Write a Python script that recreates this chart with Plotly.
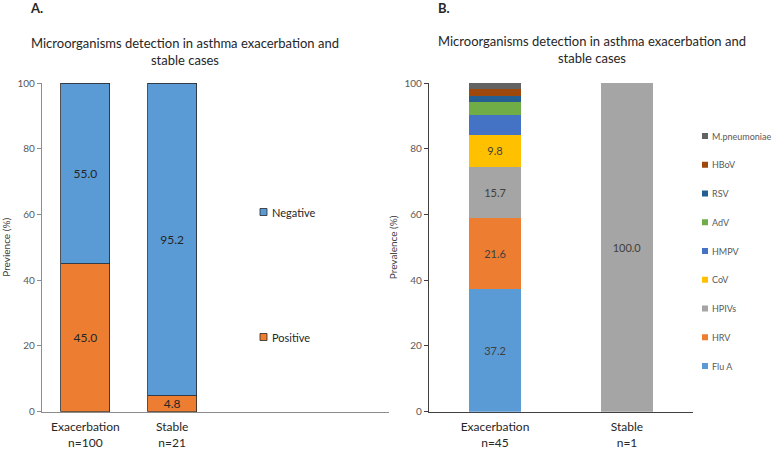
import plotly.graph_objects as go

# ---- data ----
groups_a = ["Exacerbation<br>n=100", "Stable<br>n=21"]
positive = [45.0, 4.8]
negative = [55.0, 95.2]

groups_b = ["Exacerbation<br>n=45", "Stable<br>n=1"]
organisms = ["Flu A", "HRV", "HPIVs", "CoV", "HMPV", "AdV", "RSV", "HBoV", "M.pneumoniae"]
exac_vals = [37.2, 21.6, 15.7, 9.8, 5.9, 3.9, 2.0, 2.0, 2.0]
stable_vals = [0, 0, 100.0, 0, 0, 0, 0, 0, 0]
org_colors = ["#5B9BD5", "#ED7D31", "#A5A5A5", "#FFC000", "#4472C4",
              "#70AD47", "#255E91", "#9E480E", "#636363"]

W, H = 778, 452
FONT = "Lato, Carlito, Calibri, sans-serif"

def px(x):
    return x / W

def py(y):
    return 1 - y / H

fig = go.Figure()

# Panel A: positive / negative stacked
outline = dict(color="#262626", width=0.8)
for name, vals, col in [("Positive", positive, "#ED7D31"), ("Negative", negative, "#5B9BD5")]:
    fig.add_trace(go.Bar(
        x=[0, 1], y=vals, name=name, width=0.565,
        marker=dict(color=col, line=outline),
        text=[f"{v:.1f}" for v in vals], textposition="inside",
        insidetextanchor="middle", textangle=0, constraintext="none",
        textfont=dict(family=FONT, size=12, color="#262626"),
        xaxis="x", yaxis="y", showlegend=False,
    ))

# Panel B: organisms stacked
for name, ev, sv, col in zip(organisms, exac_vals, stable_vals, org_colors):
    vals = [ev, sv]
    fig.add_trace(go.Bar(
        x=[0, 1], y=vals, name=name, width=0.4,
        marker=dict(color=col, line=dict(width=0)),
        text=[f"{v:.1f}" if v >= 9 else "" for v in vals], textposition="inside",
        insidetextanchor="middle", textangle=0, constraintext="none",
        textfont=dict(family=FONT, size=11, color="#404040"),
        xaxis="x2", yaxis="y2", showlegend=False,
    ))

ydom = [py(411.7), py(83)]
tickfont = dict(family=FONT, size=10, color="#595959")
catfont = dict(family=FONT, size=12, color="#262626")

fig.update_layout(
    width=W, height=H,
    margin=dict(l=0, r=0, t=0, b=0, autoexpand=False),
    paper_bgcolor="white", plot_bgcolor="white",
    barmode="stack",
    font=dict(family=FONT),
    xaxis=dict(domain=[px(42), px(389)], range=[-0.5, 3.5], automargin=False,
               tickvals=[0, 1], ticktext=groups_a, tickfont=catfont,
               ticklabelstandoff=4,
               showline=True, linecolor="#8c8c8c", linewidth=1.2,
               showgrid=False, zeroline=False, ticks="", anchor="y"),
    yaxis=dict(domain=ydom, range=[0, 100], tickvals=[0, 20, 40, 60, 80, 100],
               automargin=False,
               tickfont=tickfont, showline=True, linecolor="#8c8c8c", linewidth=1.2,
               ticks="outside", ticklen=4, tickcolor="#8c8c8c",
               showgrid=False, zeroline=False, anchor="x",
               title=dict(text="Previence (%)", standoff=4,
                          font=dict(family=FONT, size=10, color="#404040"))),
    xaxis2=dict(domain=[px(429), px(693)], range=[-0.5, 1.5], automargin=False,
                tickvals=[0, 1], ticktext=groups_b, tickfont=catfont,
                ticklabelstandoff=4,
                showline=True, linecolor="#404040", linewidth=1.2,
                showgrid=False, zeroline=False, ticks="", anchor="y2"),
    yaxis2=dict(domain=ydom, range=[0, 100], tickvals=[0, 20, 40, 60, 80, 100],
                automargin=False,
                tickfont=tickfont, showline=True, linecolor="#404040", linewidth=1.2,
                ticks="outside", ticklen=4, tickcolor="#404040",
                showgrid=False, zeroline=False, anchor="x2",
                title=dict(text="Prevalence (%)", standoff=4,
                           font=dict(family=FONT, size=10, color="#404040"))),
)

title_txt = "Microorganisms detection in asthma exacerbation and<br>stable cases"
annotations = [
    dict(text="<b>A.</b>", x=px(28), y=py(8), xanchor="left", yanchor="middle",
         font=dict(family=FONT, size=13, color="#262626")),
    dict(text="<b>B.</b>", x=px(436), y=py(8), xanchor="left", yanchor="middle",
         font=dict(family=FONT, size=13, color="#262626")),
    dict(text=title_txt, x=px(185), y=py(51), xanchor="center", yanchor="middle",
         font=dict(family=FONT, size=13, color="#262626")),
    dict(text=title_txt, x=px(592), y=py(49), xanchor="center", yanchor="middle",
         font=dict(family=FONT, size=13, color="#262626")),
]
shapes = []

# legend A (manual)
for name, col, yy in [("Negative", "#5B9BD5", 212), ("Positive", "#ED7D31", 337)]:
    shapes.append(dict(type="rect", xref="paper", yref="paper",
                       x0=px(260), x1=px(267), y0=py(yy + 3.5), y1=py(yy - 3.5),
                       fillcolor=col, line=dict(color="#262626", width=0.8)))
    annotations.append(dict(text=name, x=px(270), y=py(yy), xanchor="left", yanchor="middle",
                            font=dict(family=FONT, size=11, color="#262626")))

# legend B (manual), top to bottom in reverse stacking order
for i, (name, col) in enumerate(zip(organisms[::-1], org_colors[::-1])):
    yy = 136 + i * 28.75
    shapes.append(dict(type="rect", xref="paper", yref="paper",
                       x0=px(702), x1=px(708), y0=py(yy + 3), y1=py(yy - 3),
                       fillcolor=col, line=dict(width=0)))
    annotations.append(dict(text=name, x=px(710), y=py(yy), xanchor="left", yanchor="middle",
                            font=dict(family=FONT, size=9, color="#595959")))

for a in annotations:
    a.update(xref="paper", yref="paper", showarrow=False)

fig.update_layout(annotations=annotations, shapes=shapes)

fig.write_html("out.html", config={"displayModeBar": False},
               post_script="document.body.style.margin='0';")
